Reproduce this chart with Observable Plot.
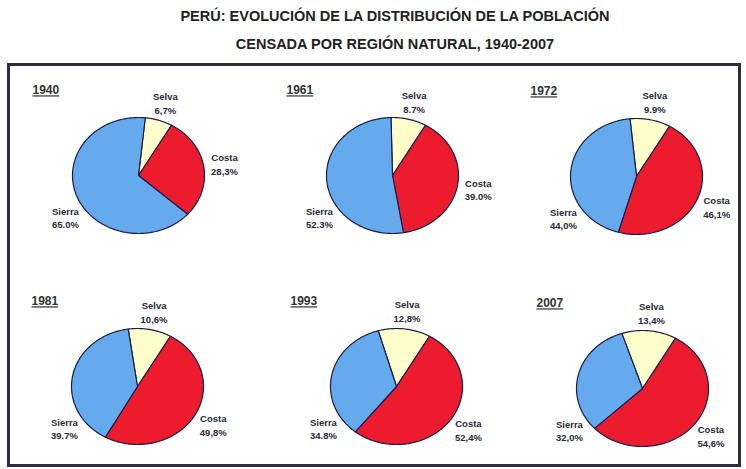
<!DOCTYPE html>
<html><head><meta charset="utf-8">
<script src="https://cdn.jsdelivr.net/npm/d3@7"></script>
<script src="https://cdn.jsdelivr.net/npm/@observablehq/plot@0.6"></script>
<style>
body{margin:0;width:746px;height:469px;overflow:hidden;background:#fff;font-family:"Liberation Sans",Arial,sans-serif;position:relative}
#title{position:absolute;left:22px;top:0;width:746px;height:60px;text-align:center;font-weight:bold;font-size:14.5px;color:#222}
#title div{position:absolute;left:0;width:100%}
#box{position:absolute;left:7px;top:63px;width:734px;height:404px;border:3px solid #2e2b45;box-sizing:border-box}
.chart{position:absolute}
.chart svg{overflow:visible}
.yr{text-decoration:underline}
</style></head><body>
<div id="title"><div style="top:8px">PERÚ: EVOLUCIÓN DE LA DISTRIBUCIÓN DE LA POBLACIÓN</div><div style="top:36px">CENSADA POR REGIÓN NATURAL, 1940-2007</div></div>
<div id="box"></div>
<script>
// ---- data ----
const years = ["1940", "1961", "1972", "1981", "1993", "2007"];
const regions = ["Selva", "Costa", "Sierra"];
const selva = [6.7, 8.7, 9.9, 10.6, 12.8, 13.4];
const costa = [28.3, 39.0, 46.1, 49.8, 52.4, 54.6];
const sierra = [65.0, 52.3, 44.0, 39.7, 34.8, 32.0];
const selvaLabels = ["6,7%", "8.7%", "9.9%", "10,6%", "12,8%", "13,4%"];
const costaLabels = ["28,3%", "39.0%", "46,1%", "49,8%", "52,4%", "54,6%"];
const sierraLabels = ["65.0%", "52.3%", "44,0%", "39.7%", "34.8%", "32,0%"];

// ---- layout / style ----
const centers = [[138, 175], [392, 175], [636, 176], [137, 386], [396, 386], [642, 388]];
const RX = 66, RY = 58, L = 115, R = 100, T = 95, B = 85;
const colors = ["#ffffcc", "#ec1b2e", "#66aaee"];
const costaStart = 30;          // degrees clockwise from 12 o'clock
const sierraLabelAngle = 237;   // Sierra labels sit at lower left
const labelK = 1.32;

years.forEach((year, i) => {
  const vals = [selva[i], costa[i], sierra[i]];
  const labs = [selvaLabels[i], costaLabels[i], sierraLabels[i]];
  const total = d3.sum(vals);
  let a = costaStart - vals[0] / total * 360;
  const pts = [], labels = [];
  vals.forEach((v, j) => {
    const a0 = a, a1 = a + v / total * 360;
    a = a1;
    const n = Math.max(2, Math.ceil(a1 - a0));
    pts.push({region: regions[j], x: 0, y: 0});
    for (let k = 0; k <= n; k++) {
      const t = (a0 + (a1 - a0) * k / n) * Math.PI / 180;
      pts.push({region: regions[j], x: Math.sin(t), y: Math.cos(t)});
    }
    pts.push({region: regions[j], x: 0, y: 0});
    const la = (regions[j] === "Sierra" ? sierraLabelAngle : (a0 + a1) / 2) * Math.PI / 180;
    labels.push({x: labelK * Math.sin(la), y: labelK * Math.cos(la), text: regions[j] + "\n" + labs[j]});
  });
  const chart = Plot.plot({
    width: L + R, height: T + B,
    margin: 0,
    x: {domain: [-L / RX, R / RX], axis: null},
    y: {domain: [-B / RY, T / RY], axis: null},
    color: {domain: regions, range: colors},
    marks: [
      Plot.line(pts, {x: "x", y: "y", z: "region", fill: "region", stroke: "#1c1c48", strokeWidth: 1.2, strokeLinejoin: "round"}),
      Plot.text(labels, {x: "x", y: "y", text: "text", fontSize: 9.5, fontWeight: "bold", lineHeight: 1.45, fill: "#2a2a36", fontFamily: "Liberation Sans, Arial, sans-serif"}),
      Plot.text([year], {frameAnchor: "top-left", text: d => d, dx: 9, dy: 10, lineAnchor: "middle", textAnchor: "start", fontSize: 12, fontWeight: "bold", fill: "#333", fontFamily: "Liberation Sans, Arial, sans-serif"})
    ]
  });
  chart.querySelectorAll("text").forEach(t => { if (t.textContent === year) t.classList.add("yr"); });
  const div = document.createElement("div");
  div.className = "chart";
  div.style.left = (centers[i][0] - L) + "px";
  div.style.top = (centers[i][1] - T) + "px";
  div.appendChild(chart);
  document.body.appendChild(div);
});
</script>
</body></html>
